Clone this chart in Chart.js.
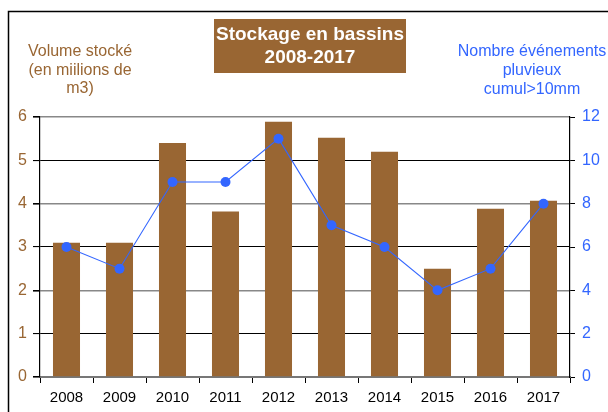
<!DOCTYPE html>
<html><head><meta charset="utf-8">
<script src="https://cdn.jsdelivr.net/npm/chart.js@4/dist/chart.umd.min.js"></script>
<style>html,body{margin:0;padding:0;background:#fff}#wrap{width:608px;height:412px;position:relative}</style>
</head><body><div id="wrap"><canvas id="c" width="608" height="412"></canvas></div>
<script>
const years = ['2008','2009','2010','2011','2012','2013','2014','2015','2016','2017'];
const volume = [3.1, 3.1, 5.4, 3.82, 5.89, 5.52, 5.2, 2.5, 3.88, 4.07];
const events = [6, 5, 9, 9, 11, 7, 6, 4, 5, 8];
const titleLines = ['Stockage en bassins', '2008-2017'];
const leftTitle = ['Volume stocké', '(en miilions de', 'm3)'];
const rightTitle = ['Nombre événements', 'pluvieux', 'cumul>10mm'];

const BROWN = '#996633', BLUE = '#3366ff';
const FONT = 'Liberation Sans, Arial, sans-serif';

const deco = {
  id: 'deco',
  beforeDraw(chart) {
    const ctx = chart.ctx;
    ctx.save();
    ctx.fillStyle = '#fff';
    ctx.fillRect(0, 0, chart.width, chart.height);
    ctx.strokeStyle = '#000'; ctx.lineWidth = 1.5;
    ctx.beginPath(); ctx.moveTo(8.5, 412); ctx.lineTo(8.5, 11.5); ctx.lineTo(608, 11.5); ctx.stroke();
    ctx.fillStyle = BROWN;
    ctx.fillRect(214, 19, 192, 54);
    ctx.fillStyle = '#fff';
    ctx.font = 'bold 19px ' + FONT;
    ctx.textAlign = 'center'; ctx.textBaseline = 'middle';
    ctx.fillText(titleLines[0], 310, 35);
    ctx.fillText(titleLines[1], 310, 58);
    ctx.font = '16px ' + FONT;
    ctx.fillStyle = BROWN;
    leftTitle.forEach((t, i) => ctx.fillText(t, 80, 52 + i * 18.5));
    ctx.fillStyle = BLUE;
    rightTitle.forEach((t, i) => ctx.fillText(t, 532, 52 + i * 19));
    ctx.restore();
  }
};

new Chart(document.getElementById('c'), {
  data: {
    labels: years,
    datasets: [
      { type: 'line', data: events, yAxisID: 'y1', borderColor: BLUE, backgroundColor: BLUE,
        borderWidth: 1.1, pointRadius: 5, pointHoverRadius: 5, pointBorderWidth: 0, order: 0, tension: 0 },
      { type: 'bar', data: volume, yAxisID: 'y', backgroundColor: BROWN, borderWidth: 0,
        categoryPercentage: 1, barPercentage: 0.51, order: 1 }
    ]
  },
  options: {
    responsive: false, animation: false, devicePixelRatio: 1,
    layout: { padding: { top: 117, left: 0, right: 0, bottom: 0 } },
    plugins: { legend: { display: false }, tooltip: { enabled: false }, title: { display: false } },
    scales: {
      x: {
        offset: true,
        grid: { offset: true, drawOnChartArea: false, drawTicks: true, tickLength: 6, color: '#000' },
        border: { color: '#777', width: 2 },
        ticks: { color: '#000', font: { family: FONT, size: 15 }, padding: 6, maxRotation: 0 },
        afterFit(s) { s.height = 35; }
      },
      y: {
        position: 'left', min: 0, max: 6,
        ticks: { stepSize: 1, color: BROWN, font: { family: FONT, size: 16 }, padding: 6 },
        grid: { color: c => (c.index % 2 === 0 ? '#888' : '#000'), lineWidth: c => (c.index % 2 === 0 ? 1.6 : 1.1),
                tickColor: '#000', tickLength: 7 },
        border: { color: '#000', width: 1.2 },
        afterFit(s) { s.width = 40; }
      },
      y1: {
        position: 'right', min: 0, max: 12,
        ticks: { stepSize: 2, color: BLUE, font: { family: FONT, size: 16 }, padding: 7 },
        grid: { drawOnChartArea: false, tickColor: '#000', tickLength: 5 },
        border: { color: '#000', width: 1.2 },
        afterFit(s) { s.width = 38; }
      }
    }
  },
  plugins: [deco]
});
</script></body></html>
